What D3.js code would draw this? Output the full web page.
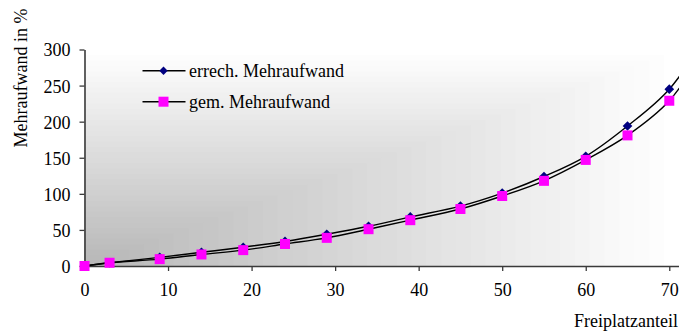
<!DOCTYPE html>
<html>
<head>
<meta charset="utf-8">
<script src="https://cdn.jsdelivr.net/npm/d3@7"></script>
<style>
  html, body { margin: 0; padding: 0; background: #ffffff; }
  svg { display: block; }
  text { font-family: "Liberation Serif", "Times New Roman", serif; fill: #000; }
</style>
</head>
<body>
<svg id="chart" width="679" height="331"></svg>
<script>
// Freiplatzanteil (x) and Mehraufwand in % for both series
const freiplatz = [0, 3, 9, 14, 19, 24, 29, 34, 39, 45, 50, 55, 60, 65, 70, 75];
const errechnet = [0, 4.5, 12, 19, 26, 34, 44, 55, 68, 83, 101, 124, 152, 194, 245, 330];
const gemessen  = [0, 4.5, 9.5, 16, 22, 30.5, 39, 51, 63.5, 79, 97, 118, 147, 181, 229, 315];

const xTicks = [0, 10, 20, 30, 40, 50, 60, 70];
const yTicks = [0, 50, 100, 150, 200, 250, 300];
const seriesNames = ["errech. Mehraufwand", "gem. Mehraufwand"];

const svg = d3.select("#chart");
const plotLeft = 84.5, plotTop = 49.5, plotBottom = 266;
const fontSize = 18;

const x = d3.scaleLinear().domain([0, 80]).range([plotLeft, plotLeft + 80 * 8.354]);
const y = d3.scaleLinear().domain([0, 300]).range([plotBottom, plotTop]);

const plotW = 679 - plotLeft, plotH = plotBottom - plotTop;

// Corner gradient: grey in the lower-left corner, fading to white towards top and right
const shade = d3.interpolateRgb("#b6b6b6", "#ffffff");
const steps = 40;
svg.append("g").selectAll("rect")
  .data(d3.range(steps))
  .join("rect")
  .attr("x", plotLeft)
  .attr("y", i => plotBottom - plotH * (1 - i / steps))
  .attr("width", i => plotW * (1 - i / steps))
  .attr("height", i => plotH * (1 - i / steps))
  .attr("fill", i => shade(1 - i / steps));

// Axes
const axisColor = "#3a3a3a";
const gx = svg.append("g").attr("transform", `translate(0,${plotBottom})`)
  .call(d3.axisBottom(x).tickValues(xTicks).tickSize(5).tickSizeOuter(0).tickPadding(12));
const gy = svg.append("g").attr("transform", `translate(${plotLeft},0)`)
  .call(d3.axisLeft(y).tickValues(yTicks).tickSize(5).tickSizeOuter(0).tickPadding(9));
[gx, gy].forEach(g => {
  g.select(".domain").attr("stroke", axisColor).attr("stroke-width", 1.6);
  g.selectAll(".tick line").attr("stroke", axisColor).attr("stroke-width", 1.3);
  g.selectAll(".tick text").attr("font-size", fontSize)
    .attr("font-family", "'Liberation Serif', serif").attr("fill", "#000");
});
gy.selectAll(".tick text").attr("dy", "0.36em");

// Axis titles
svg.append("text")
  .attr("transform", "translate(27,78) rotate(-90)")
  .attr("text-anchor", "middle")
  .attr("font-size", fontSize)
  .text("Mehraufwand in %");
svg.append("text")
  .attr("x", 678).attr("y", 327)
  .attr("text-anchor", "end")
  .attr("font-size", fontSize)
  .text("Freiplatzanteil");

// Series lines
const line = d3.line().curve(d3.curveCatmullRom.alpha(0.5))
  .x((d, i) => x(freiplatz[i])).y(d => y(d));
[errechnet, gemessen].forEach(vals => {
  svg.append("path").attr("d", line(vals))
    .attr("fill", "none").attr("stroke", "#000").attr("stroke-width", 1.4);
});

// Markers
const diamond = d3.symbol().type(d3.symbolDiamond2).size(60);
svg.append("g").selectAll("path")
  .data(errechnet)
  .join("path")
  .attr("d", diamond)
  .attr("transform", (d, i) => `translate(${x(freiplatz[i])},${y(d)})`)
  .attr("fill", "#000080");
svg.append("g").selectAll("rect")
  .data(gemessen)
  .join("rect")
  .attr("x", (d, i) => x(freiplatz[i]) - 5)
  .attr("y", d => y(d) - 5)
  .attr("width", 10).attr("height", 10)
  .attr("fill", "#ff00ff");

// Legend
const legend = svg.append("g");
const rows = [{ name: seriesNames[0], kind: "diamond", cy: 70.7 },
              { name: seriesNames[1], kind: "square", cy: 101.7 }];
rows.forEach(r => {
  legend.append("line").attr("x1", 142.5).attr("x2", 185.5)
    .attr("y1", r.cy).attr("y2", r.cy)
    .attr("stroke", "#000").attr("stroke-width", 1.4);
  if (r.kind === "diamond") {
    legend.append("path").attr("d", d3.symbol().type(d3.symbolDiamond2).size(45)())
      .attr("transform", `translate(163.5,${r.cy})`).attr("fill", "#000080");
  } else {
    legend.append("rect").attr("x", 158.5).attr("y", r.cy - 5)
      .attr("width", 10).attr("height", 10).attr("fill", "#ff00ff");
  }
  legend.append("text").attr("x", 189).attr("y", r.cy + 6.5)
    .attr("font-size", fontSize).text(r.name);
});
</script>
</body>
</html>
